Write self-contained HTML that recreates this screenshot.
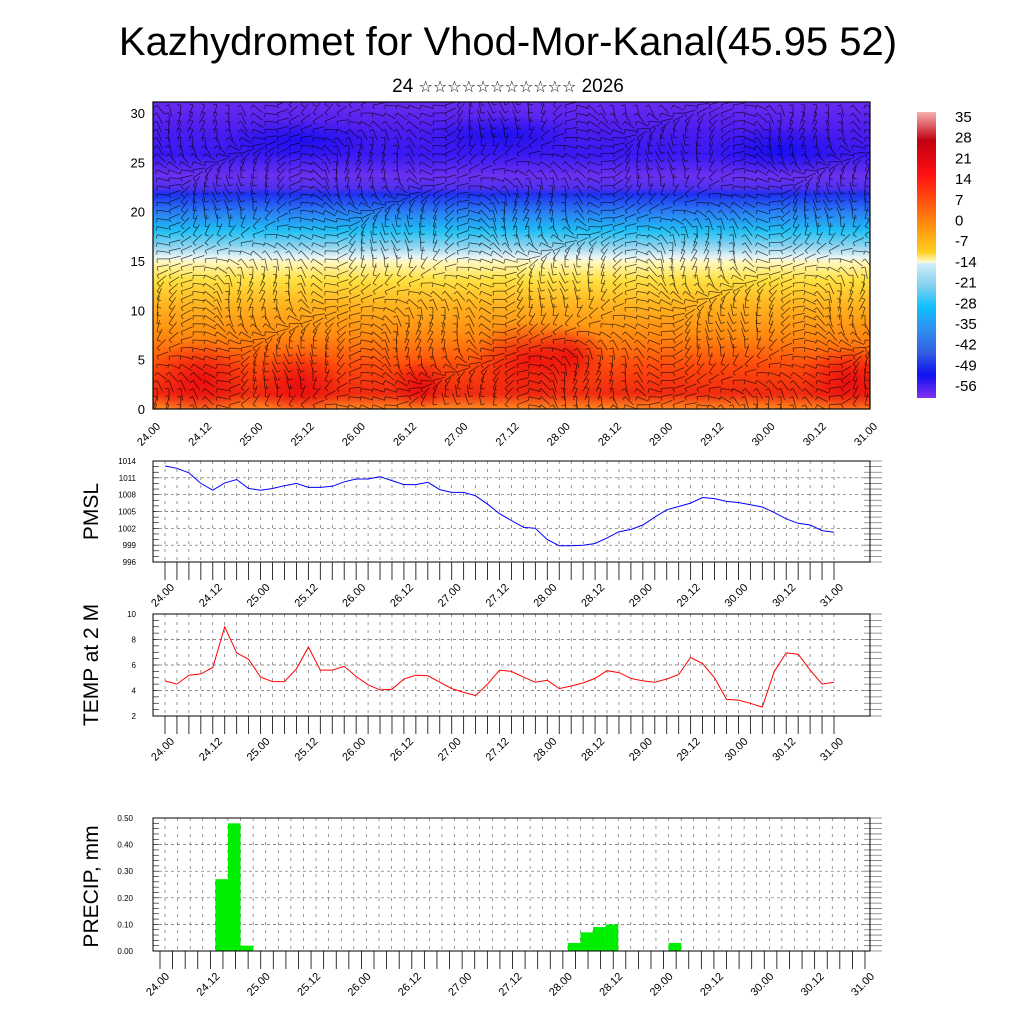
<!DOCTYPE html>
<html><head><meta charset="utf-8">
<style>
body{margin:0;background:#fff;}
svg{display:block;font-family:"Liberation Sans",sans-serif;}
</style></head>
<body>
<svg id="chart" width="1024" height="1024" viewBox="0 0 1024 1024" xmlns="http://www.w3.org/2000/svg">
<defs>
<linearGradient id="vgrad" x1="0" y1="0" x2="0" y2="1">
<stop offset="0" stop-color="#6a2cf0"/>
<stop offset="0.1" stop-color="#4a1cf0"/>
<stop offset="0.17" stop-color="#3a18f4"/>
<stop offset="0.24" stop-color="#6a30f0"/>
<stop offset="0.28" stop-color="#5030f0"/>
<stop offset="0.30" stop-color="#1e30f0"/>
<stop offset="0.36" stop-color="#2a80f4"/>
<stop offset="0.42" stop-color="#20c0f4"/>
<stop offset="0.47" stop-color="#90d4f0"/>
<stop offset="0.505" stop-color="#e8f4f8"/>
<stop offset="0.52" stop-color="#fff8c0"/>
<stop offset="0.58" stop-color="#ffe040"/>
<stop offset="0.66" stop-color="#ffb420"/>
<stop offset="0.76" stop-color="#ff8a10"/>
<stop offset="0.86" stop-color="#ff4a0c"/>
<stop offset="0.95" stop-color="#f02a10"/>
<stop offset="1" stop-color="#ff8a20"/>
</linearGradient>
<linearGradient id="cbar" x1="0" y1="0" x2="0" y2="1">
<stop offset="0" stop-color="#f8b0b0"/>
<stop offset="0.1" stop-color="#c00010"/>
<stop offset="0.22" stop-color="#ff1010"/>
<stop offset="0.33" stop-color="#ff6010"/>
<stop offset="0.42" stop-color="#ffa010"/>
<stop offset="0.49" stop-color="#ffd020"/>
<stop offset="0.525" stop-color="#fffcd0"/>
<stop offset="0.53" stop-color="#d0ecf8"/>
<stop offset="0.61" stop-color="#80d0f0"/>
<stop offset="0.68" stop-color="#10c0ff"/>
<stop offset="0.76" stop-color="#3090f0"/>
<stop offset="0.84" stop-color="#3060e0"/>
<stop offset="0.92" stop-color="#1010f0"/>
<stop offset="1" stop-color="#8030f0"/>
</linearGradient>
<radialGradient id="hot"><stop offset="0" stop-color="#e80010" stop-opacity="0.75"/><stop offset="1" stop-color="#e80010" stop-opacity="0"/></radialGradient>
<radialGradient id="cold"><stop offset="0" stop-color="#0008f0" stop-opacity="0.6"/><stop offset="1" stop-color="#0008f0" stop-opacity="0"/></radialGradient>
<clipPath id="topclip"><rect x="153" y="102" width="717" height="307"/></clipPath>
</defs>

<text x="508" y="55" text-anchor="middle" font-size="40">Kazhydromet for Vhod-Mor-Kanal(45.95 52)</text>
<text x="508" y="92" text-anchor="middle" font-size="19" font-family="Liberation Sans, DejaVu Sans, sans-serif">24 <tspan font-size="16">☆☆☆☆☆☆☆☆☆☆☆</tspan> 2026</text>

<g id="top"></g>
<g id="cbarg"></g>
<g id="pmsl"></g>
<g id="temp"></g>
<g id="prec"></g>
</svg>
<script>
const timeLabels=["24.00","24.12","25.00","25.12","26.00","26.12","27.00","27.12","28.00","28.12","29.00","29.12","30.00","30.12","31.00"];
const heightTicks=[0,5,10,15,20,25,30];
const cbarLabels=["35","28","21","14","7","0","-7","-14","-21","-28","-35","-42","-49","-56"];
const pmslValues=[1013.1,1012.7,1011.9,1010,1008.8,1010.1,1010.7,1009.1,1008.8,1009.1,1009.6,1010,1009.3,1009.3,1009.5,1010.3,1010.8,1010.8,1011.2,1010.5,1009.8,1009.8,1010.2,1008.9,1008.4,1008.4,1007.8,1006.3,1004.6,1003.4,1002.2,1002,1000,998.9,998.9,999,999.3,1000.3,1001.4,1001.8,1002.6,1004,1005.3,1005.9,1006.5,1007.5,1007.3,1006.8,1006.6,1006.2,1005.8,1004.8,1003.7,1002.9,1002.6,1001.6,1001.3];
const pmslTicks=[996,999,1002,1005,1008,1011,1014];
const tempValues=[4.75,4.5,5.2,5.3,5.8,9,6.95,6.45,5.05,4.7,4.7,5.7,7.4,5.6,5.6,5.9,5.1,4.45,4.05,4.1,4.9,5.2,5.15,4.65,4.15,3.85,3.6,4.5,5.6,5.5,5.05,4.65,4.8,4.15,4.35,4.6,4.95,5.55,5.4,4.95,4.75,4.65,4.9,5.25,6.6,6.1,5.0,3.3,3.25,3.0,2.7,5.5,6.95,6.85,5.6,4.5,4.65];
const tempTicks=[2,4,6,8,10];
const precipIndex=[4,5,6,32,33,34,35,40];
const precipValues=[0.27,0.48,0.02,0.03,0.07,0.09,0.10,0.03];
const precipTicks=["0.00","0.10","0.20","0.30","0.40","0.50"];

const NS="http://www.w3.org/2000/svg";
function mk(parent,tag,attrs,text){const e=document.createElementNS(NS,tag);for(const k in attrs)e.setAttribute(k,attrs[k]);if(text!==undefined)e.textContent=text;parent.appendChild(e);return e;}

// ---------- top panel ----------
(function(){
const g=document.getElementById('top');
const X0=153,X1=870,Y0=102,Y1=409;
const yH=v=>Y1-v*(Y1-113)/30;
const bg=mk(g,'rect',{x:X0,y:Y0,width:X1-X0,height:Y1-Y0,fill:'url(#vgrad)'});


const cg=mk(g,'g',{'clip-path':'url(#topclip)'});
[[200,380,50,40],[300,385,45,35],[420,385,30,25],[530,360,60,40],[570,355,40,30],[850,380,50,35]].forEach(b=>mk(cg,'ellipse',{cx:b[0],cy:b[1],rx:b[2],ry:b[3],fill:'url(#hot)'}));
[[780,150,70,25],[300,140,80,20],[500,135,80,20]].forEach(b=>mk(cg,'ellipse',{cx:b[0],cy:b[1],rx:b[2],ry:b[3],fill:'url(#cold)'}));
let d='';
for(let i=0;i<60;i++){for(let j=0;j<38;j++){
 const x=X0+4+i*12,y=Y0+3+j*8.1;
 const a=Math.sin(i*0.37+j*0.21)*1.2+Math.cos(i*0.13-j*0.33)*0.9;
 const L=12;
 d+=`M${x.toFixed(1)} ${y.toFixed(1)}l${(L*Math.cos(a)).toFixed(1)} ${(L*Math.sin(a)).toFixed(1)}`;
 d+=`M${x.toFixed(1)} ${y.toFixed(1)}l${(4*Math.cos(a+1.5)).toFixed(1)} ${(4*Math.sin(a+1.5)).toFixed(1)}`;
}}
const barbs=mk(cg,'path',{d:d,stroke:'#000','stroke-width':0.75,'stroke-opacity':0.7,fill:'none'});


mk(g,'rect',{x:X0,y:Y0,width:X1-X0,height:Y1-Y0,fill:'none',stroke:'#000','stroke-width':1.2});
heightTicks.forEach(v=>{
 const t=mk(g,'text',{x:X0-8,y:yH(v)+5,'text-anchor':'end','font-size':13},String(v));
 
 
});
timeLabels.forEach((lab,k)=>{
 const x=X0+k*(X1-X0)/14;
 const t=mk(g,'text',{x:0,y:0,'text-anchor':'end','font-size':11,transform:`translate(${x+8},${Y1+18}) rotate(-45)`},lab);
 
 
});
})();

// ---------- colorbar ----------
(function(){
const g=document.getElementById('cbarg');
mk(g,'rect',{x:917,y:112,width:19,height:286,fill:'url(#cbar)'});
cbarLabels.forEach((l,k)=>{
 const t=mk(g,'text',{x:955,y:122+k*20.7,'font-size':15},l);
 
 
});
})();

function linePanel(id,X0,X1,Y0,Y1,dx0,dx1,ticks,vals,color,ylabel,minV,maxV,yMinor,labelX){
 const g=document.getElementById(id);
 const xs=i=>dx0+i*(dx1-dx0)/56;
 const ys=v=>Y1-(v-minV)/(maxV-minV)*(Y1-Y0);
 for(let i=0;i<=56;i++){mk(g,'line',{x1:xs(i),x2:xs(i),y1:Y0,y2:Y1,stroke:'#555','stroke-width':0.6,'stroke-dasharray':'3,5'});}
 ticks.forEach(v=>{if(v>minV&&v<maxV)mk(g,'line',{x1:X0,x2:X1,y1:ys(v),y2:ys(v),stroke:'#666','stroke-width':0.7,'stroke-dasharray':'3,3'});});
 for(let k=0;k<=yMinor;k++){const y=Y0+k*(Y1-Y0)/yMinor;
   mk(g,'line',{x1:X0,x2:X0+6,y1:y,y2:y,stroke:'#000','stroke-width':0.6});
   mk(g,'line',{x1:X1-6,x2:X1+12,y1:y,y2:y,stroke:'#777','stroke-width':0.8});}
 mk(g,'rect',{x:X0,y:Y0,width:X1-X0,height:Y1-Y0,fill:'none',stroke:'#000','stroke-width':1});
 for(let i=0;i<=56;i++){mk(g,'line',{x1:xs(i),x2:xs(i),y1:Y1,y2:Y1+18,stroke:'#000','stroke-width':0.8});}
 const p=mk(g,'polyline',{points:vals.map((v,i)=>xs(i).toFixed(1)+','+ys(v).toFixed(1)).join(' '),fill:'none',stroke:color,'stroke-width':1});
 
 
 ticks.forEach(v=>{const t=mk(g,'text',{x:X0-17,y:ys(v)+3,'text-anchor':'end','font-size':8},String(v));
   
   });
 timeLabels.forEach((lab,k)=>{const x=xs(k*4);
   const t=mk(g,'text',{x:0,y:0,'text-anchor':'end','font-size':11,transform:`translate(${x+10},${Y1+26}) rotate(-45)`},lab);
   
   });
 const yl=mk(g,'text',{x:0,y:0,'text-anchor':'middle','font-size':21,transform:`translate(${labelX},${(Y0+Y1)/2}) rotate(-90)`},ylabel);
 
 
}
linePanel('pmsl',153,870,461,562,165,834,pmslTicks,pmslValues,'#0000ff','PMSL',996,1014,18,98);
linePanel('temp',153,870,614,716,165,834,tempTicks,tempValues,'#ff0000','TEMP at 2 M',2,10,16,98);

(function(){
 const g=document.getElementById('prec');
 const X0=153,X1=870,Y0=818,Y1=951,dx0=165,dx1=870;
 const bw=(dx1-dx0)/56;
 const xs=i=>dx0+i*bw;
 const ys=v=>Y1-v/0.5*(Y1-Y0);
 for(let i=0;i<=56;i++){mk(g,'line',{x1:xs(i),x2:xs(i),y1:Y0,y2:Y1,stroke:'#555','stroke-width':0.6,'stroke-dasharray':'3,5'});}
 precipTicks.forEach(s=>{const v=parseFloat(s);if(v>0&&v<0.5)mk(g,'line',{x1:X0,x2:X1,y1:ys(v),y2:ys(v),stroke:'#666','stroke-width':0.7,'stroke-dasharray':'3,3'});});
 for(let k=0;k<=25;k++){const y=Y0+k*(Y1-Y0)/25;
   mk(g,'line',{x1:X0,x2:X0+6,y1:y,y2:y,stroke:'#000','stroke-width':0.6});
   mk(g,'line',{x1:X1-6,x2:X1+12,y1:y,y2:y,stroke:'#777','stroke-width':0.8});}
 precipIndex.forEach((idx,k)=>{
   const r=mk(g,'rect',{x:xs(idx),y:ys(precipValues[k]),width:bw,height:Y1-ys(precipValues[k]),fill:'#00ee00'});
   
   
 });
 mk(g,'rect',{x:X0,y:Y0,width:X1-X0,height:Y1-Y0,fill:'none',stroke:'#000','stroke-width':1});
 for(let i=0;i<=56;i++){mk(g,'line',{x1:xs(i)-5,x2:xs(i)-5,y1:Y1,y2:Y1+18,stroke:'#000','stroke-width':0.8});}
 precipTicks.forEach(s=>{const t=mk(g,'text',{x:X0-20,y:ys(parseFloat(s))+3,'text-anchor':'end','font-size':8},s);
   
   });
 timeLabels.forEach((lab,k)=>{const x=xs(k*4);
   const t=mk(g,'text',{x:0,y:0,'text-anchor':'end','font-size':11,transform:`translate(${x+5},${Y1+26}) rotate(-45)`},lab);
   
   });
 const yl=mk(g,'text',{x:0,y:0,'text-anchor':'middle','font-size':21,transform:`translate(98,${(Y0+Y1)/2+2}) rotate(-90)`},'PRECIP, mm');
 
 
})();
</script>
</body></html>
